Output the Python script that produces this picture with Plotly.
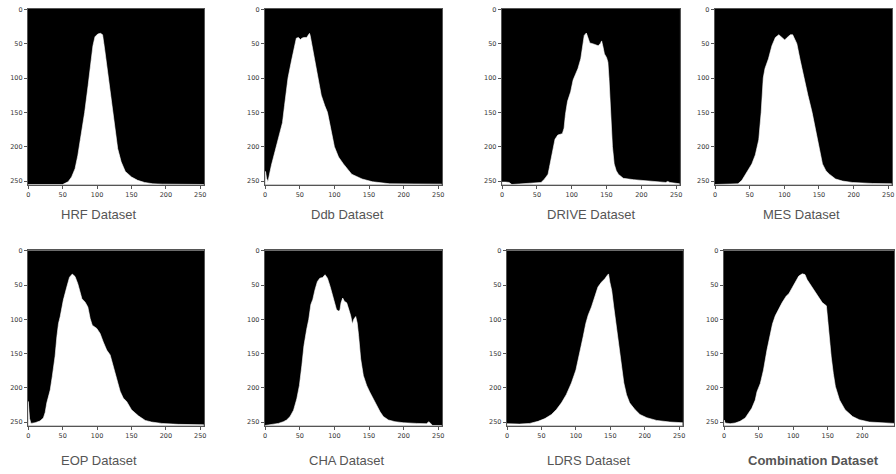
import plotly.graph_objects as go

# ---------------- data (intensity value x, image row y of the histogram curve) ----------------
HRF_X = [0, 50, 54, 58, 63, 68, 72, 77, 82, 87, 91, 94, 97, 101, 105, 108, 111, 116, 121, 126, 130, 135, 141, 150, 159, 169, 181, 195, 255]
HRF_Y = [255, 255, 253, 251, 244, 232, 213, 184, 150, 111, 77, 53, 40, 36, 35, 37, 58, 97, 135, 179, 203, 222, 236, 244, 249, 252, 254, 254.5, 255]

DDB_X = [0, 0.5, 2, 4, 9, 16, 21, 25, 28, 30, 33, 38, 43, 45, 48, 51, 53, 56, 60, 62, 64, 65, 68, 72, 77, 81, 86, 90, 95, 100, 106, 113, 125, 140, 155, 170, 180, 255]
DDB_Y = [255, 236, 246, 251, 227, 200, 180, 165, 140, 125, 100, 75, 50, 42, 41, 44, 42, 41, 41, 38, 35, 38, 55, 75, 100, 125, 140, 150, 175, 200, 215, 225, 240, 247, 251, 253, 254, 254.5]

DRIVE_X = [0, 0, 5, 10, 14, 51, 56, 61, 66, 68, 70.5, 73, 76, 80, 86.5, 89, 91, 94, 98.5, 102, 106, 109, 113, 115.5, 118, 121, 124, 126, 130, 134, 138, 141, 143, 145, 147, 150, 152, 153.5, 156, 158.5, 161, 164, 167, 174, 189, 213, 235, 238, 241, 255]
DRIVE_Y = [255, 251.5, 251.5, 252, 255, 253, 252, 247, 240, 230, 216, 201, 189, 183, 181, 173, 153, 134, 120, 103, 93, 86, 72, 53, 38, 34.5, 45, 49, 50, 51, 53, 50, 46, 55, 65, 70, 77, 100, 150, 200, 225, 235, 240, 246, 248, 250, 252, 250.5, 252, 254]

MES_X = [0, 33, 38.6, 43, 48, 53, 58, 63, 66.5, 69.5, 72, 77, 82, 87, 92, 96.6, 100.5, 104, 108.7, 112, 115, 118, 123, 128, 134, 140, 145, 150, 155, 160, 165, 174, 184, 198, 212, 227, 255]
MES_Y = [255, 254, 249, 242, 235, 225, 212, 190, 150, 100, 86, 72, 53, 41, 37, 41, 44.6, 41, 37, 37, 43, 50, 75, 100, 125, 150, 175, 200, 225, 235, 240, 247, 250, 252, 253, 253.5, 254]

EOP_X = [0, 0, 2, 4, 10, 17, 22, 24.6, 27, 32, 35, 39, 41.6, 44, 46.4, 51, 56, 60, 64, 68, 72, 75.4, 78, 82.7, 86.6, 90, 93, 99.6, 104.4, 109, 114, 119, 124, 128.6, 133.5, 138, 143, 150, 160, 170, 179, 194, 208, 218, 255]
EOP_Y = [255, 220, 245, 252, 251, 248.5, 244, 236, 222, 203, 183, 154, 125.5, 106, 96.5, 72, 53, 38.6, 34, 37.6, 48, 63, 70, 75, 82, 99, 108.6, 113.4, 120.7, 133, 145, 152, 169, 188, 205, 215, 220, 232, 241, 247.6, 250, 252, 253, 253.4, 254]

CHA_X = [0, 19, 26.4, 31, 36, 41, 45.7, 49.5, 53, 56, 60, 63, 66, 68.8, 72, 75.5, 79, 83, 86.5, 90, 93.8, 97.6, 101, 103, 105.8, 108, 109.6, 112, 114.4, 117.8, 120, 123.6, 126, 128, 130.8, 133, 135, 138, 141.8, 146.6, 151, 156, 161, 166, 170.7, 178, 187.5, 199.5, 218.8, 233, 236.5, 239.4, 242, 255]
CHA_Y = [255, 252, 249.5, 247, 242, 232.7, 216, 196.5, 167.6, 138.7, 114.6, 100, 78.5, 71, 56.8, 44.8, 40, 39, 35, 40, 52, 66.5, 78.5, 85.7, 88, 86.7, 76, 69, 73.7, 76, 83, 95, 107, 100, 96, 105.6, 124, 158, 182, 196.5, 206, 216, 225, 235, 242, 247, 249.5, 251, 252, 252.4, 249.5, 252, 255, 255]

LDRS_X = [0, 18, 33, 45, 55, 64.5, 71.7, 79, 86, 93.5, 100, 105.8, 110.5, 114.4, 117.8, 122.6, 127.5, 132, 137, 142, 145.4, 147.4, 149.3, 152, 155, 159, 163, 166, 169.6, 173.5, 178, 185.7, 193, 203, 217, 236.5, 255]
LDRS_Y = [252.4, 253, 252, 249, 245, 239, 231.7, 222, 210, 193, 174, 149.6, 125.5, 106, 94, 82, 67.6, 53, 46, 41, 36, 33.8, 45.8, 57.9, 82, 111, 140, 169, 193, 210, 222, 231.7, 239, 243.7, 247.6, 250, 251]

COMB_X = [0, 0, 1.5, 8.7, 16, 23, 30.6, 35.4, 40, 45, 47.6, 52.4, 57, 62, 67, 70, 74, 79, 84, 90, 93.7, 98.5, 103.4, 108, 113, 117, 120, 124, 128.6, 132.5, 137, 142, 148, 149.5, 152, 155, 158, 161, 167, 175, 186, 195.6, 210, 229.6, 248, 255]
COMB_Y = [255, 247, 251.4, 252.4, 251.4, 249, 244, 237, 230, 218, 205.7, 193.6, 174, 145, 121, 107, 95, 85, 75.6, 66, 62.6, 54, 44, 37, 33.7, 34.7, 42, 48, 54, 61, 68, 75.6, 80.4, 97, 126, 155, 179, 198, 217.7, 232, 242, 246.6, 250, 251.4, 252.4, 252.5]

TITLES = ["HRF Dataset", "Ddb Dataset", "DRIVE Dataset", "MES Dataset",
          "EOP Dataset", "CHA Dataset", "LDRS Dataset", "Combination Dataset"]
SERIES = [(HRF_X, HRF_Y), (DDB_X, DDB_Y), (DRIVE_X, DRIVE_Y), (MES_X, MES_Y),
          (EOP_X, EOP_Y), (CHA_X, CHA_Y), (LDRS_X, LDRS_Y), (COMB_X, COMB_Y)]
TICKS = [0, 50, 100, 150, 200, 250]

# ---------------- layout geometry (pixels) ----------------
W, H = 896, 474
COLS = [(26, 203), (264, 442), (502, 681), (716, 894),
        (26, 203), (264, 442), (507, 684), (725, 896)]
ROWS = [(6, 183)] * 4 + [(249, 425.5)] * 4
TITLE_POS = [(97, 213), (347, 213), (592, 213), (803, 213),
             (97, 460), (347, 460), (589, 460), (815, 460)]

fig = go.Figure()
layout = dict(width=W, height=H, margin=dict(l=0, r=0, t=0, b=0),
              paper_bgcolor="white", plot_bgcolor="black", showlegend=False)
annotations = []
BOTTOM = 256

for i, ((xs, ys), title) in enumerate(zip(SERIES, TITLES)):
    n = i + 1
    xa = "x" if n == 1 else f"x{n}"
    ya = "y" if n == 1 else f"y{n}"
    fig.add_trace(go.Scatter(x=[min(xs), max(xs)], y=[BOTTOM, BOTTOM], xaxis=xa, yaxis=ya,
                             mode="lines", line=dict(width=0, color="black"), hoverinfo="skip"))
    fig.add_trace(go.Scatter(x=xs, y=ys, xaxis=xa, yaxis=ya, mode="lines",
                             line=dict(width=0.6, color="white"), fill="tonexty",
                             fillcolor="white", hoverinfo="skip"))
    x0, x1 = COLS[i]
    y0, y1 = ROWS[i]
    full_w = 177.7
    xmax = -0.5 + 256 * (x1 - x0) / full_w if i == 7 else 255.5
    axis_common = dict(showgrid=False, zeroline=False, showline=True, linecolor="#555",
                       linewidth=1, mirror=True, ticks="outside", ticklen=3, tickwidth=1,
                       tickcolor="#555", tickvals=TICKS,
                       tickfont=dict(family="DejaVu Sans", size=6.5, color="#333"))
    layout["xaxis" if n == 1 else f"xaxis{n}"] = dict(
        domain=[x0 / W, x1 / W], range=[-0.5, xmax], anchor=ya, **axis_common)
    layout["yaxis" if n == 1 else f"yaxis{n}"] = dict(
        domain=[1 - y1 / H, 1 - y0 / H], range=[255.5, -0.5], anchor=xa, **axis_common)
    tx, ty = TITLE_POS[i]
    bold = (i == 7)
    annotations.append(dict(x=tx / W, y=1 - ty / H, xref="paper", yref="paper",
                            text=f"<b>{title}</b>" if bold else title, showarrow=False,
                            xanchor="center", yanchor="middle",
                            font=dict(family="Liberation Sans", size=13, color="#555")))

layout["annotations"] = annotations
fig.update_layout(**layout)
fig.write_html("out.html", config={"displayModeBar": False},
               post_script="document.body.style.margin='0';document.body.style.overflow='hidden';")
